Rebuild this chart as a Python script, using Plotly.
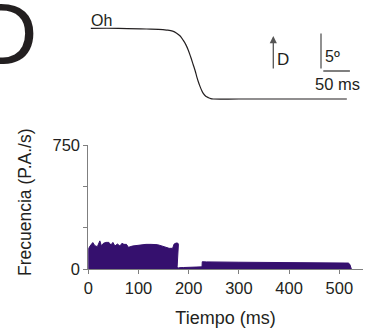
import plotly.graph_objects as go

W, H = 366, 335

# ---- data: firing rate (P.A./s) vs time (ms)
t_rate = [0, 0.5, 5, 9, 13, 18, 23, 26, 30, 35, 41, 45, 49, 53, 58, 63, 67, 71, 76, 80,
          88, 101, 115, 125, 138, 151, 161, 168, 171, 175, 178, 179.5, 178, 176.5, 177, 179,
          181, 190, 200, 210, 220, 226.5, 227, 235, 300, 400, 500, 518, 521, 524]
rate = [0, 125, 145, 160, 141, 135, 170, 141, 155, 161, 161, 145, 161, 139, 151, 139, 155, 149, 149, 131,
        139, 145, 149, 149, 147, 135, 125, 125, 151, 157, 157, 150, 90, 40, 15, 5,
        8, 9, 10, 11, 12, 13, 44, 43, 41, 39, 37, 36, 28, 0]

# ---- data: eye position (deg) vs time (ms)
t_eye = [5, 60, 116, 140, 156, 168, 176, 183, 189, 194, 199, 204, 209, 213, 216, 219, 222.5, 226, 229,
         234, 239, 244, 249, 300, 400, 515]
eye = [0, 0, -0.1, -0.15, -0.25, -0.4, -0.7, -1.1, -1.7, -2.3, -3.1, -4.1, -5.2, -6.1, -6.9, -7.6, -8.3,
       -8.9, -9.3, -9.7, -9.9, -10.05, -10.1, -10.1, -10.1, -10.1]

x_ticks = [0, 100, 200, 300, 400, 500]
y_ticks = [0, 250, 500, 750]
y_ticklabels = ["0", "", "", "750"]

FILL = "#35106e"
INK = "#231f20"
AXC = "#7f7f7f"
FONT = "Liberation Sans, Arial, sans-serif"

def px(x):
    return x / W

def py(y):
    return 1 - y / H

x_dom = [px(88.3), px(362.7)]
x_rng = [0, (362.7 - 88.3) / 0.502]

fig = go.Figure()
fig.add_trace(go.Scatter(x=t_rate, y=rate, mode="lines", fill="tozeroy",
                         fillcolor=FILL, line=dict(color=FILL, width=1),
                         xaxis="x", yaxis="y", hoverinfo="skip"))
fig.add_trace(go.Scatter(x=t_eye, y=eye, mode="lines", line=dict(color=INK, width=1.2, shape="spline"),
                         xaxis="x2", yaxis="y2", hoverinfo="skip"))

# top panel y range: 7 px per degree, 0 deg at y=28.3 px
top_px, bot_px = 10, 120
y2_rng = [-(bot_px - 28.3) / 7, -(top_px - 28.3) / 7]

fig.update_layout(
    width=W, height=H, margin=dict(l=0, r=0, t=0, b=0),
    paper_bgcolor="white", plot_bgcolor="white", showlegend=False,
    font=dict(family=FONT, color="#231f20", size=16),
    xaxis=dict(domain=x_dom, range=x_rng, tickvals=x_ticks, ticks="outside", ticklen=4,
               tickcolor=AXC, showline=True, linecolor=AXC, linewidth=1, showgrid=False,
               zeroline=False, automargin=False, tickfont=dict(size=16.5),
               title=dict(text="Tiempo (ms)", font=dict(size=18), standoff=15), anchor="y"),
    yaxis=dict(domain=[py(269), py(145)], range=[0, 750], tickvals=y_ticks, ticktext=y_ticklabels,
               ticks="outside", ticklen=4, tickcolor=AXC, showline=True, linecolor=AXC, linewidth=1,
               showgrid=False, zeroline=False, automargin=False, tickfont=dict(size=16.5), anchor="x"),
    xaxis2=dict(domain=x_dom, range=x_rng, visible=False, anchor="y2"),
    yaxis2=dict(domain=[py(bot_px), py(top_px)], range=y2_rng, visible=False, anchor="x2"),
)

annots = [
    dict(text="Frecuencia (P.A./s)", x=px(25), y=py(202), textangle=-90, font=dict(size=17.5),
         xanchor="center", yanchor="middle"),
    dict(text="D", x=px(-28), y=py(33), font=dict(size=88, color=INK), xanchor="left", yanchor="middle"),
    dict(text="Oh", x=px(89), y=py(20.5), font=dict(size=16), xanchor="left", yanchor="middle"),
    dict(text="D", x=px(275), y=py(60), font=dict(size=17), xanchor="left", yanchor="middle"),
    dict(text="5º", x=px(323), y=py(57), font=dict(size=16), xanchor="left", yanchor="middle"),
    dict(text="50 ms", x=px(337), y=py(84), font=dict(size=16.5), xanchor="center", yanchor="middle"),
    dict(text="", x=px(273.3), y=py(36), ax=0, ay=34, showarrow=True, arrowhead=2, arrowsize=1.1,
         arrowwidth=1.3, arrowcolor="#555555"),
]
for a in annots:
    a.setdefault("xref", "paper")
    a.setdefault("yref", "paper")
    a.setdefault("showarrow", False)
    fig.add_annotation(**a)

# scale bars (5 deg vertical, 50 ms horizontal) on the top panel axes
t_bar = (321 - 88.3) / 0.502
fig.add_shape(type="line", xref="x2", yref="y2", x0=t_bar, x1=t_bar, y0=-0.75, y1=-5.75,
              line=dict(color="#555555", width=1.3))
t_hbar = (323.3 - 88.3) / 0.502
fig.add_shape(type="line", xref="x2", yref="y2", x0=t_hbar, x1=t_hbar + 53, y0=-6.1, y1=-6.1,
              line=dict(color="#555555", width=1.3))

fig.write_html("out.html", config={"displayModeBar": False},
               post_script="document.body.style.margin='0';document.body.style.padding='0';")
